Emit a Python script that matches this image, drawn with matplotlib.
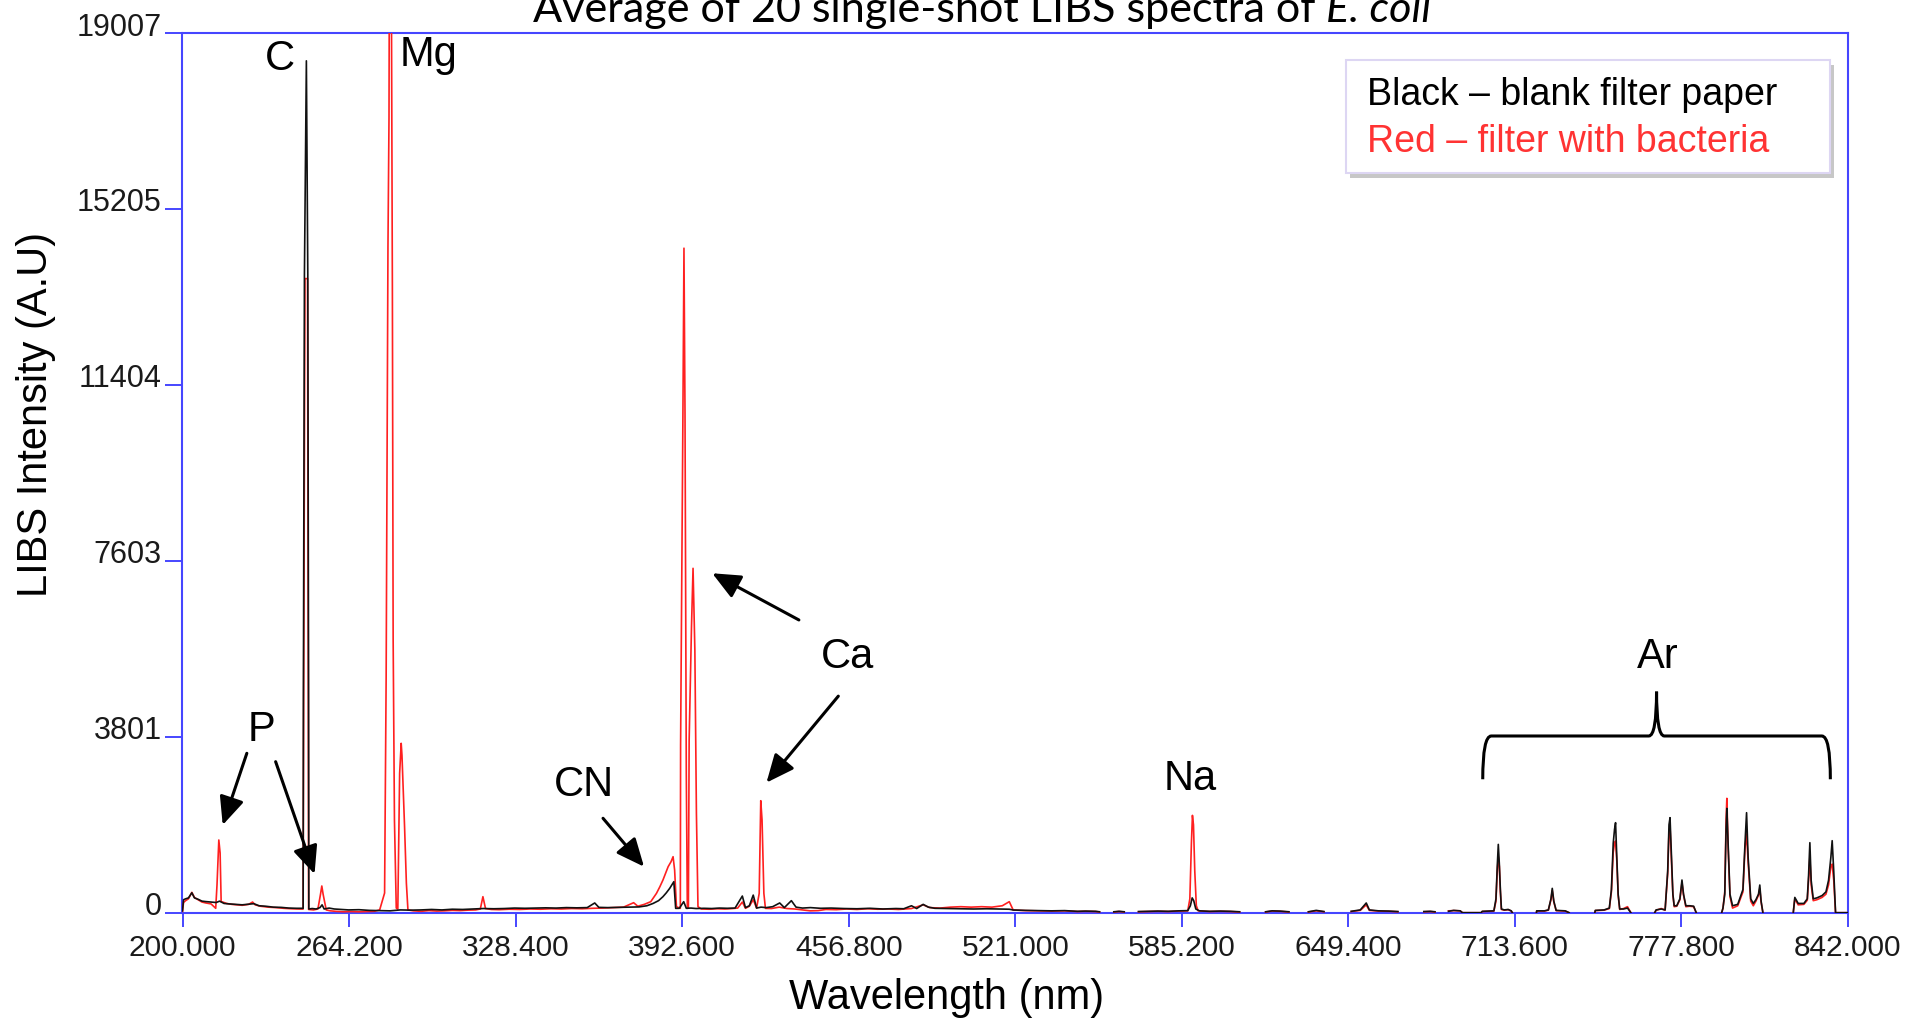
import matplotlib.pyplot as plt
import numpy as np
from matplotlib.path import Path
from matplotlib.patches import PathPatch, Rectangle
from matplotlib.transforms import ScaledTranslation

W, H = 1908, 1022

# --- data: (wavelength nm, intensity) ---
black_pts = [
    (200.0, 40), (200.4, 280), (201.2, 300), (202.3, 320), (203.6, 430), (204.6, 320),
    (206.0, 290), (207.5, 250), (209.0, 240), (211.0, 230), (213.0, 220), (214.3, 250),
    (216.0, 200), (218.0, 190), (220.5, 180), (223.0, 170), (225.5, 185), (227.5, 195),
    (229.5, 150), (232.0, 140), (235.0, 120), (238.0, 115), (241.0, 100), (244.0, 95),
    (246.5, 95), (246.6, 4655), (247.0, 13780), (247.75, 18405), (248.3, 13780),
    (248.6, 4655), (248.7, 80), (250.0, 90), (251.5, 80), (253.0, 110), (253.8, 170),
    (254.6, 80), (256.5, 100), (258.5, 80), (261.0, 70), (264.0, 60), (268.0, 65),
    (272.0, 50), (276.0, 45), (280.0, 40), (284.0, 60), (288.0, 55), (292.0, 60),
    (296.0, 70), (300.0, 60), (304.0, 75), (308.0, 70), (312.0, 80), (316.0, 90),
    (320.0, 85), (324.0, 90), (328.0, 100), (332.0, 95), (336.0, 100), (340.0, 105),
    (344.0, 100), (348.0, 110), (352.0, 105), (356.0, 110), (358.9, 210), (360.5, 115),
    (364.0, 110), (368.0, 115), (372.0, 120), (376.0, 125), (379.0, 150), (381.4, 200),
    (383.5, 260), (385.2, 346), (386.5, 430), (387.8, 526), (389.4, 670), (390.1, 94),
    (391.5, 95), (393.2, 238), (394.2, 95), (396.0, 100), (398.0, 90), (401.0, 95),
    (404.0, 90), (407.0, 100), (410.0, 95), (413.0, 100), (415.8, 360), (417.0, 110),
    (418.5, 150), (420.0, 380), (421.3, 100), (423.0, 120), (425.0, 110), (427.5, 130),
    (430.2, 210), (432.0, 110), (434.7, 260), (436.5, 120), (439.0, 100), (442.0, 110),
    (446.0, 95), (450.0, 100), (455.0, 90), (460.0, 85), (465.0, 95), (470.0, 80),
    (475.0, 90), (478.0, 85), (481.0, 150), (483.0, 90), (485.5, 180), (487.5, 120),
    (490.0, 95), (495.0, 90), (500.0, 85), (505.0, 80), (510.0, 85), (515.0, 80),
    (518.7, 75), (520.2, 58), (525.0, 50), (530.0, 45), (535.0, 40), (540.0, 45),
    (545.0, 30), (548.0, 35), (552.0, 30), (553.5, 20), (556.0, np.nan), (559.0, 20),
    (561.0, 30), (563.0, 20), (566.0, np.nan), (568.5, 25), (572.0, 30), (576.0, 35),
    (580.0, 30), (584.0, 40), (587.5, 45), (588.5, 150), (589.2, 320), (589.8, 260),
    (590.6, 80), (592.0, 40), (596.0, 30), (600.0, 35), (604.0, 30), (607.5, 20),
    (612.5, np.nan), (617.5, 20), (620.0, 40), (623.0, 35), (626.5, 20), (630.0, np.nan),
    (634.0, 20), (637.0, 50), (640.0, 25), (645.0, np.nan), (650.5, 30), (654.0, 60),
    (656.3, 210), (657.5, 60), (661.0, 40), (665.0, 35), (668.5, 25), (673.0, np.nan),
    (678.5, 25), (681.0, 30), (682.8, 20), (685.5, np.nan), (688.0, 30), (690.0, 50),
    (692.5, 40), (693.4, 0), (700.6, 0), (701.0, 30), (703.0, 35), (705.5, 40),
    (706.3, 300), (706.8, 1000), (707.2, 1476), (707.6, 1050), (708.0, 500), (708.4, 80),
    (709.5, 60), (711.0, 70), (712.2, 40), (712.6, 0), (717.0, np.nan),
    (721.9, 0), (722.0, 40), (725.0, 40), (726.5, 60), (727.5, 300), (728.0, 526),
    (728.6, 250), (729.5, 50), (733.0, 40), (734.5, 0), (740.0, np.nan),
    (744.4, 0), (744.6, 50), (748.0, 60), (750.0, 100), (750.8, 500), (751.5, 1500),
    (752.0, 1800), (752.4, 1945), (752.9, 1200), (753.4, 400), (754.0, 80), (755.5, 80),
    (757.0, 100), (758.3, 0), (763.0, np.nan),
    (767.5, 0), (768.0, 60), (770.0, 80), (771.5, 60), (772.5, 900), (773.0, 1900),
    (773.4, 2053), (773.9, 1300), (774.5, 400), (775.0, 150), (776.0, 150), (777.2, 300),
    (778.0, 706), (778.6, 400), (779.5, 150), (781.0, 150), (782.5, 140), (783.5, 0),
    (788.0, np.nan),
    (793.3, 0), (793.8, 100), (794.5, 400), (795.0, 1800), (795.3, 2254), (795.8, 1500),
    (796.5, 400), (797.5, 150), (799.5, 180), (801.5, 500), (802.3, 1500), (802.9, 2161),
    (803.5, 1200), (804.5, 300), (805.5, 200), (806.5, 280), (807.5, 400), (808.0, 598),
    (808.5, 250), (809.2, 0), (815.0, np.nan),
    (820.9, 0), (821.5, 330), (822.8, 200), (825.0, 200), (826.3, 300), (826.8, 800),
    (827.3, 1513), (827.8, 700), (828.6, 300), (830.0, 320), (832.0, 370), (833.5, 450),
    (834.5, 700), (835.4, 1200), (835.9, 1556), (836.5, 900), (837.2, 0), (842.0, 0),
]

red_pts = [
    (200.0, 30), (200.4, 220), (201.2, 260), (202.3, 300), (203.6, 440), (204.6, 330),
    (206.0, 280), (207.5, 230), (209.0, 210), (211.0, 190), (212.8, 95), (213.3, 600),
    (213.6, 994), (214.0, 1571), (214.5, 1290), (214.9, 238), (215.5, 230), (217.0, 200),
    (219.0, 180), (221.0, 170), (223.0, 160), (225.5, 180), (227.0, 230), (228.0, 170),
    (230.0, 140), (233.0, 120), (236.0, 110), (239.0, 95), (242.0, 85), (245.0, 80),
    (246.5, 80), (246.7, 4500), (247.2, 13700), (248.2, 13700), (248.5, 4500),
    (248.6, 70), (250.5, 60), (252.2, 80), (253.2, 400), (253.7, 577), (254.2, 400),
    (255.4, 60), (257.0, 40), (259.0, 30), (262.0, 20), (265.0, 25), (268.0, 20),
    (271.0, 25), (274.0, 30), (276.0, 60), (277.9, 425), (278.5, 5070), (279.2, 14390),
    (279.6, 17170), (279.8, 22000), (280.4, 22000), (280.9, 13530), (281.2, 5893),
    (281.7, 2003), (282.4, 100), (283.0, 80), (283.7, 3010), (284.3, 3660), (284.6, 3400),
    (285.0, 2800), (285.6, 1858), (286.3, 635), (286.9, 60), (289.0, 40), (292.0, 30),
    (295.0, 45), (298.0, 35), (301.0, 40), (304.0, 50), (307.0, 45), (310.0, 55),
    (313.0, 60), (314.8, 80), (315.8, 346), (316.8, 90), (319.0, 70), (322.0, 65),
    (326.0, 75), (330.0, 70), (334.0, 80), (338.0, 75), (342.0, 85), (346.0, 80),
    (350.0, 90), (354.0, 85), (358.0, 95), (362.0, 100), (366.0, 110), (370.0, 120),
    (373.9, 216), (375.5, 140), (378.0, 180), (380.5, 238), (382.7, 418), (384.0, 560),
    (385.2, 706), (387.2, 994), (388.3, 1100), (389.1, 1210), (389.7, 922), (390.4, 130),
    (391.9, 94), (392.0, 3624), (392.9, 10792), (393.3, 14357), (393.7, 10792),
    (394.2, 3000), (394.6, 94), (395.0, 100), (395.3, 3731), (396.2, 6180), (396.8, 7441),
    (397.5, 5676), (398.1, 2146), (398.7, 130), (400.0, 80), (403.0, 75), (406.0, 85),
    (409.0, 80), (412.0, 90), (414.0, 100), (415.8, 230), (417.0, 95), (418.5, 140),
    (420.0, 280), (421.3, 100), (422.3, 418), (422.9, 2420), (423.4, 2002), (424.1, 418),
    (424.7, 94), (427.0, 90), (430.0, 120), (433.0, 90), (436.0, 80), (439.0, 60),
    (442.0, 40), (445.0, 45), (448.0, 70), (452.0, 65), (456.0, 80), (460.0, 70),
    (464.0, 85), (468.0, 75), (472.0, 80), (476.0, 70), (481.0, 90), (485.5, 170),
    (488.0, 110), (492.0, 100), (496.0, 120), (500.0, 130), (504.0, 120), (508.0, 130),
    (512.0, 120), (516.0, 150), (518.7, 238), (520.2, 58), (525.0, 45), (530.0, 40),
    (535.0, 35), (540.0, 40), (545.0, 25), (548.0, 30), (552.0, 25), (553.5, 15),
    (556.0, np.nan), (559.0, 15), (561.0, 25), (563.0, 15), (566.0, np.nan), (568.5, 20),
    (572.0, 25), (576.0, 30), (580.0, 25), (584.0, 35), (587.5, 40), (588.3, 300),
    (588.9, 1500), (589.3, 2103), (589.7, 1900), (590.2, 900), (590.8, 150), (591.5, 40),
    (596.0, 25), (600.0, 30), (604.0, 25), (607.5, 15), (612.5, np.nan), (617.5, 15),
    (620.0, 35), (623.0, 30), (626.5, 15), (630.0, np.nan), (634.0, 15), (637.0, 40),
    (640.0, 20), (645.0, np.nan), (650.5, 25), (654.0, 50), (656.3, 170), (657.5, 50),
    (661.0, 35), (665.0, 30), (668.5, 20), (673.0, np.nan), (678.5, 20), (681.0, 25),
    (682.8, 15), (685.5, np.nan), (688.0, 40), (690.0, 45), (692.5, 40), (693.4, 0),
    (700.6, 0), (701.0, 25), (703.0, 30), (705.5, 35), (706.3, 250), (706.8, 900),
    (707.2, 1210), (707.6, 1000), (708.0, 450), (708.4, 70), (709.5, 55), (711.0, 65),
    (712.2, 35), (712.6, 0), (717.0, np.nan),
    (721.9, 0), (722.0, 35), (725.0, 35), (726.5, 55), (727.5, 280), (728.0, 480),
    (728.6, 230), (729.5, 45), (733.0, 35), (734.5, 0), (740.0, np.nan),
    (744.4, 0), (744.6, 45), (748.0, 55), (750.0, 90), (750.8, 450), (751.5, 1300),
    (752.0, 1500), (752.4, 1550), (752.9, 1100), (753.4, 380), (754.0, 70), (755.5, 90),
    (757.0, 130), (758.3, 0), (763.0, np.nan),
    (767.5, 0), (768.0, 50), (770.0, 90), (771.5, 55), (772.5, 850), (773.0, 1750),
    (773.4, 1850), (773.9, 1200), (774.5, 380), (775.0, 130), (776.0, 140), (777.2, 280),
    (778.0, 650), (778.6, 380), (779.5, 130), (781.0, 140), (782.5, 130), (783.5, 0),
    (788.0, np.nan),
    (793.3, 0), (793.8, 90), (794.5, 450), (795.0, 2000), (795.3, 2471), (795.8, 1400),
    (796.5, 350), (797.5, 100), (799.5, 150), (801.5, 450), (802.3, 1400), (802.9, 1700),
    (803.5, 1100), (804.5, 250), (805.5, 150), (806.5, 250), (807.5, 380), (808.0, 520),
    (808.5, 230), (809.2, 0), (815.0, np.nan),
    (820.9, 0), (821.5, 300), (822.8, 170), (825.0, 180), (826.3, 270), (826.8, 700),
    (827.3, 1200), (827.8, 600), (828.6, 260), (830.0, 280), (832.0, 330), (833.5, 400),
    (834.5, 600), (835.4, 1000), (835.9, 1050), (836.5, 700), (837.2, 0), (842.0, 0),
]

x_ticks = [200.0, 264.2, 328.4, 392.6, 456.8, 521.0, 585.2, 649.4, 713.6, 777.8, 842.0]
y_ticks = [0, 3801, 7603, 11404, 15205, 19007]

# element labels: (text, wavelength, intensity) at label centre
peak_labels = [("C", 237.5, 18455), ("Mg", 294.7, 18534), ("P", 230.5, 3943),
               ("CN", 354.8, 2760), ("Ca", 456.5, 5521), ("Na", 588.3, 2892),
               ("Ar", 768.8, 5521)]
# arrows: (tail, head)
arrows = [((224.8, 3444), (215.5, 1895)), ((235.9, 3263), (250.9, 836)),
          ((362.1, 2040), (377.9, 994)), ((437.6, 6325), (404.2, 7334)),
          ((452.8, 4679), (425.1, 2810))]

legend_lines = [("Black \u2013 blank filter paper", "black"),
                ("Red \u2013 filter with bacteria", "#ff3333")]

blue = "#4646ff"
sans = "Liberation Sans"

black_wl, black_int = np.array(black_pts, dtype=float).T
red_wl, red_int = np.array(red_pts, dtype=float).T

fig = plt.figure(figsize=(W / 100, H / 100), dpi=100)
ax = fig.add_axes([182.5 / W, 1 - 912.7 / H, (1848 - 182.5) / W, (912.7 - 33) / H])

ax.plot(red_wl, red_int, color="#ff2020", lw=1.2, zorder=3)
ax.plot(black_wl, black_int, color="#111111", lw=1.2, zorder=4)
ax.set_xlim(200, 842)
ax.set_ylim(0, 19007)

for sp in ax.spines.values():
    sp.set_color(blue)
    sp.set_linewidth(1.5)
    sp.set_zorder(2)

ax.set_xticks(x_ticks)
ax.set_xticklabels([f"{v:.3f}" for v in x_ticks], fontfamily=sans)
ax.set_yticks(y_ticks)
ax.set_yticklabels([str(v) for v in y_ticks], fontfamily=sans)
ax.tick_params(axis="both", direction="out", color=blue, width=1.4, labelcolor="#1a1a1a")
ax.tick_params(axis="y", length=12, pad=3, labelsize=22)
ax.tick_params(axis="x", length=10, pad=5, labelsize=21.5)

# y labels sit slightly above their ticks in the original
raise_up = ScaledTranslation(0, 0.09, fig.dpi_scale_trans)
for tick in ax.yaxis.get_major_ticks():
    tick.label1.set_transform(tick.label1.get_transform() + raise_up)

fig.text(947 / W, 1 - 998 / H, "Wavelength (nm)", ha="center", va="center",
         fontsize=30, fontfamily=sans)
fig.text(36.5 / W, 1 - 414 / H, "LIBS Intensity (A.U)", ha="center", va="center",
         rotation=90, fontsize=30, fontfamily=sans)

for txt, wl, val in peak_labels:
    ax.text(wl, val, txt, ha="center", va="center", fontsize=30, fontfamily=sans, zorder=6)

for tail, head in arrows:
    ax.annotate("", xy=head, xytext=tail, zorder=6,
                arrowprops=dict(arrowstyle="-|>,head_length=0.9,head_width=0.4",
                                mutation_scale=19, lw=2.2, color="black",
                                shrinkA=0, shrinkB=0))

# curly bracket over the Ar lines
y_low, y_mid, y_tip = 2883, 3818, 4776
verts = [(701.2, y_low), (701.2, y_mid), (704.5, y_mid), (765.2, y_mid),
         (768.2, y_mid), (768.2, y_tip), (768.2, y_mid), (771.2, y_mid),
         (831.9, y_mid), (835.2, y_mid), (835.2, y_low)]
codes = [Path.MOVETO, Path.CURVE3, Path.CURVE3, Path.LINETO, Path.CURVE3, Path.CURVE3,
         Path.CURVE3, Path.CURVE3, Path.LINETO, Path.CURVE3, Path.CURVE3]
ax.add_patch(PathPatch(Path(verts, codes), fill=False, lw=2.2, color="black", zorder=6))

# legend box with a soft shadow
bx, by, bw, bh = 1345.5 / W, 1 - 172.6 / H, 484.5 / W, 113 / H
fig.add_artist(Rectangle((bx + 4 / W, by - 5 / H), bw, bh, transform=fig.transFigure,
                         facecolor="#9a9a9a", edgecolor="none", alpha=0.55, zorder=7))
fig.add_artist(Rectangle((bx, by), bw, bh, transform=fig.transFigure,
                         facecolor="white", edgecolor="#ddd6f3", lw=1.5, zorder=8))
for i, (txt, col) in enumerate(legend_lines):
    fig.text(1367 / W, 1 - (105 + 47 * i) / H, txt, color=col, fontsize=27,
             fontfamily=sans, va="baseline", zorder=9)

# title, cut off at the top edge as in the original
title_a = "Average of 20 single-shot LIBS spectra of"
title_b = "E. coli"
title_font = "Lato"
ty = 1 - 22 / H
x0, target_w = 533, 906
fs = 26
r = fig.canvas.get_renderer()
probe = fig.text(0, 0, title_a + " " + title_b, fontsize=fs, fontfamily=title_font)
fs = fs * target_w / probe.get_window_extent(r).width
probe.remove()

t1 = fig.text(x0 / W, ty, title_a, fontsize=fs, fontfamily=title_font, va="baseline")
x_end = t1.get_window_extent(r).x1
fig.text((x_end + 0.25 * fs * 100 / 72) / W, ty, title_b, fontsize=fs,
         fontfamily=title_font, style="italic", va="baseline")

fig.savefig("out.png", dpi=100)
